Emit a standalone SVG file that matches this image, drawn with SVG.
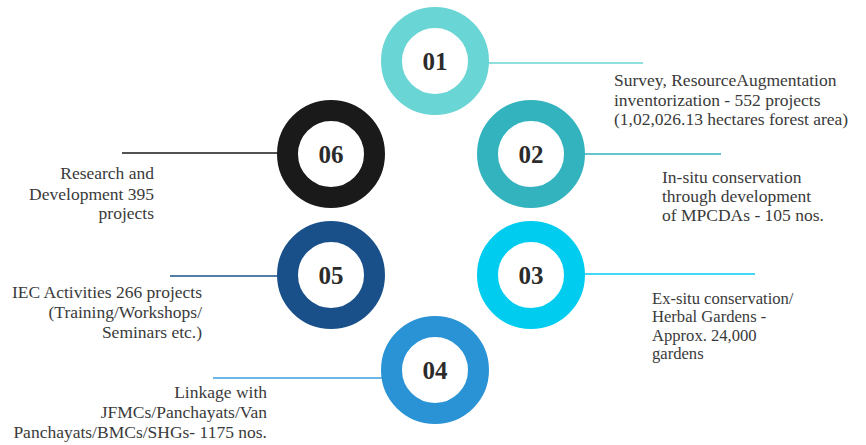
<svg xmlns="http://www.w3.org/2000/svg" width="866" height="445" viewBox="0 0 866 445">
<style>
.ring{fill:#ffffff;stroke-width:21}
.num{font-family:"Liberation Serif","Times New Roman",serif;font-weight:bold;font-size:25px;fill:#2b2b2b;text-anchor:middle}
.lbl{font-family:"Liberation Serif","Times New Roman",serif;font-size:17.5px;fill:#3a3a3a}
.sm{font-size:16.6px}
.r{text-anchor:end}
.ln{stroke-width:1.6;fill:none}
</style>
<rect width="866" height="445" fill="#ffffff"/>
<g id="connectors">
<line class="ln" x1="488" y1="63" x2="643" y2="63" stroke="#6ad5d5"/>
<line class="ln" x1="584" y1="154" x2="721" y2="154" stroke="#33b3be"/>
<line class="ln" x1="584" y1="274" x2="755" y2="274" stroke="#00ccf0"/>
<line class="ln" x1="213" y1="378" x2="383" y2="378" stroke="#3aa0dc"/>
<line class="ln" x1="170" y1="276" x2="279" y2="276" stroke="#1a508a"/>
<line class="ln" x1="122" y1="153" x2="279" y2="153" stroke="#1a1a1a"/>
</g>
<g id="node01">
<circle class="ring" cx="435" cy="61" r="43.5" stroke="#6ad5d5"/>
<text class="num" x="435" y="70">01</text>
<text class="lbl" x="614" y="86">Survey, ResourceAugmentation</text>
<text class="lbl" x="614" y="106">inventorization - 552 projects</text>
<text class="lbl" x="614" y="125">(1,02,026.13 hectares forest area)</text>
</g>
<g id="node02">
<circle class="ring" cx="531" cy="154" r="43.5" stroke="#33b3be"/>
<text class="num" x="531" y="163">02</text>
<text class="lbl" x="662" y="183">In-situ conservation</text>
<text class="lbl" x="662" y="202">through development</text>
<text class="lbl" x="662" y="221">of MPCDAs - 105 nos.</text>
</g>
<g id="node03">
<circle class="ring" cx="531" cy="275" r="43.5" stroke="#00ccf0"/>
<text class="num" x="531" y="284">03</text>
<text class="lbl sm" x="652" y="303.5">Ex-situ conservation/</text>
<text class="lbl sm" x="652" y="322">Herbal Gardens -</text>
<text class="lbl sm" x="652" y="340.5">Approx. 24,000</text>
<text class="lbl sm" x="652" y="359">gardens</text>
</g>
<g id="node04">
<circle class="ring" cx="435" cy="370" r="43.5" stroke="#2a93d5"/>
<text class="num" x="435" y="379">04</text>
<text class="lbl r" x="267" y="398">Linkage with</text>
<text class="lbl r" x="267" y="418">JFMCs/Panchayats/Van</text>
<text class="lbl r" x="267" y="438">Panchayats/BMCs/SHGs- 1175 nos.</text>
</g>
<g id="node05">
<circle class="ring" cx="331" cy="275" r="43.5" stroke="#1a508a"/>
<text class="num" x="331" y="284">05</text>
<text class="lbl r" x="202" y="298">IEC Activities 266 projects</text>
<text class="lbl r" x="202" y="318">(Training/Workshops/</text>
<text class="lbl r" x="202" y="338">Seminars etc.)</text>
</g>
<g id="node06">
<circle class="ring" cx="331" cy="154" r="43.5" stroke="#1a1a1a"/>
<text class="num" x="331" y="163">06</text>
<text class="lbl r" x="154" y="179">Research and</text>
<text class="lbl r" x="154" y="200">Development 395</text>
<text class="lbl r" x="154" y="219">projects</text>
</g>
</svg>
